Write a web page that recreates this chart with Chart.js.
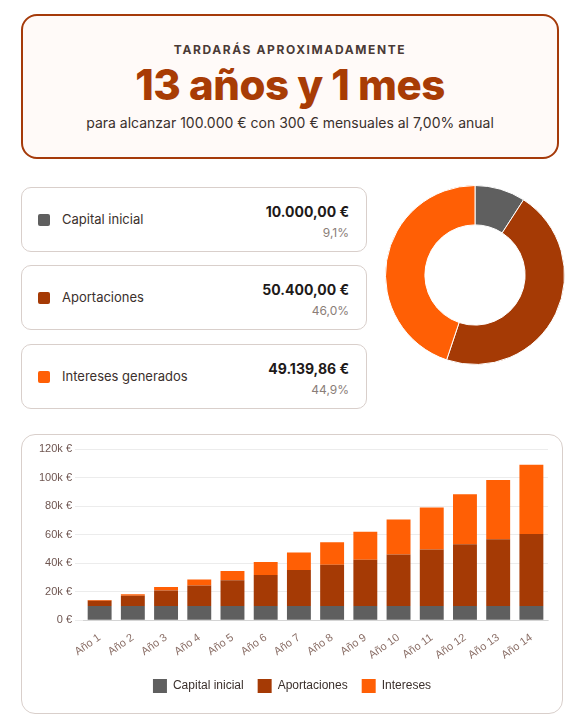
<!DOCTYPE html>
<html><head><meta charset="utf-8">
<script src="https://cdn.jsdelivr.net/npm/chart.js@4"></script>
<style>
body{margin:0;background:#fff;font-family:Inter,sans-serif;width:582px;height:727px;position:relative;overflow:hidden}
.hero{position:absolute;left:21px;top:14px;width:538px;height:145px;border:2px solid #a53a0a;border-radius:16px;background:#fffaf8;box-sizing:border-box;text-align:center}
.hero .k{margin-top:26px;font-size:12px;letter-spacing:1.6px;font-weight:700;color:#4a3a36}
.hero .big{font-size:42px;font-weight:800;color:#a83c05;margin-top:2px;letter-spacing:-0.5px}
.hero .sub{font-size:14px;color:#3b302c;margin-top:4px}
.card{position:absolute;left:21px;width:346px;height:65px;border:1px solid #d9cfcb;border-radius:10px;box-sizing:border-box}
.card .sq{position:absolute;left:16px;top:26px;width:12px;height:12px;border-radius:2px}
.card .l{position:absolute;left:40px;top:23px;font-size:13px;color:#3b302c}
.card .v{position:absolute;right:17px;top:15px;font-size:14px;font-weight:700;color:#1e1a19}
.card .p{position:absolute;right:17px;top:37px;font-size:12px;color:#8a7d78}
#donutWrap{position:absolute;left:385px;top:185px;width:180px;height:180px}
#barWrap{position:absolute;left:21px;top:434px;width:542px;height:280px;border:1px solid #d9cfcb;border-radius:14px;box-sizing:border-box}
</style></head><body>
<div class="hero"><div class="k">TARDARÁS APROXIMADAMENTE</div><div class="big">13 años y 1 mes</div><div class="sub">para alcanzar 100.000 € con 300 € mensuales al 7,00% anual</div></div>
<div class="card" style="top:187px"><div class="sq" style="background:#5f5f5f"></div><div class="l">Capital inicial</div><div class="v">10.000,00 €</div><div class="p">9,1%</div></div>
<div class="card" style="top:265px"><div class="sq" style="background:#a53a05"></div><div class="l">Aportaciones</div><div class="v">50.400,00 €</div><div class="p">46,0%</div></div>
<div class="card" style="top:344px"><div class="sq" style="background:#ff5f05"></div><div class="l">Intereses generados</div><div class="v">49.139,86 €</div><div class="p">44,9%</div></div>
<div id="donutWrap"><canvas id="donut"></canvas></div>
<div id="barWrap"><canvas id="bar"></canvas></div>
<script>
const years=["Año 1","Año 2","Año 3","Año 4","Año 5","Año 6","Año 7","Año 8","Año 9","Año 10","Año 11","Año 12","Año 13","Año 14"];
const capital=[10000,10000,10000,10000,10000,10000,10000,10000,10000,10000,10000,10000,10000,10000];
const aportaciones=[3600,7200,10800,14400,18000,21600,25200,28800,32400,36000,39600,43200,46800,50400];
const intereses=[500,1000,2500,4200,6400,9200,12200,15800,19600,24500,29400,35000,41500,48500];
const donutLabels=["Capital inicial","Aportaciones","Intereses generados"];
const donutValues=[10000,50400,49139.86];
const colors=["#5f5f5f","#a53a05","#ff5f05"];
new Chart(document.getElementById('donut'),{type:'doughnut',data:{labels:donutLabels,datasets:[{data:donutValues,backgroundColor:colors,borderColor:'#fff',borderWidth:1}]},
options:{responsive:true,maintainAspectRatio:false,animation:false,cutout:'56%',plugins:{legend:{display:false},tooltip:{enabled:false}}}});
Chart.defaults.font.family='"Liberation Sans",Arial,sans-serif';
new Chart(document.getElementById('bar'),{type:'bar',data:{labels:years,datasets:[
{label:'Capital inicial',data:capital,backgroundColor:colors[0]},
{label:'Aportaciones',data:aportaciones,backgroundColor:colors[1]},
{label:'Intereses',data:intereses,backgroundColor:colors[2]}]},
options:{responsive:true,maintainAspectRatio:false,animation:false,layout:{padding:{left:14,right:14,top:14,bottom:10}},
datasets:{bar:{categoryPercentage:0.8,barPercentage:0.9}},
scales:{x:{stacked:true,grid:{display:false},ticks:{color:'#8a6e66',font:{size:11},maxRotation:35,minRotation:35}},
y:{stacked:true,min:0,max:120000,ticks:{stepSize:20000,color:'#6e5550',font:{size:11},callback:v=>(v===0?'0 €':(v/1000)+'k €')},grid:{color:'#ececec'},border:{display:false}}},
plugins:{legend:{position:'bottom',labels:{boxWidth:14,boxHeight:14,padding:14,color:'#3b302c',font:{size:12}}},tooltip:{enabled:false}}}});
</script></body></html>
